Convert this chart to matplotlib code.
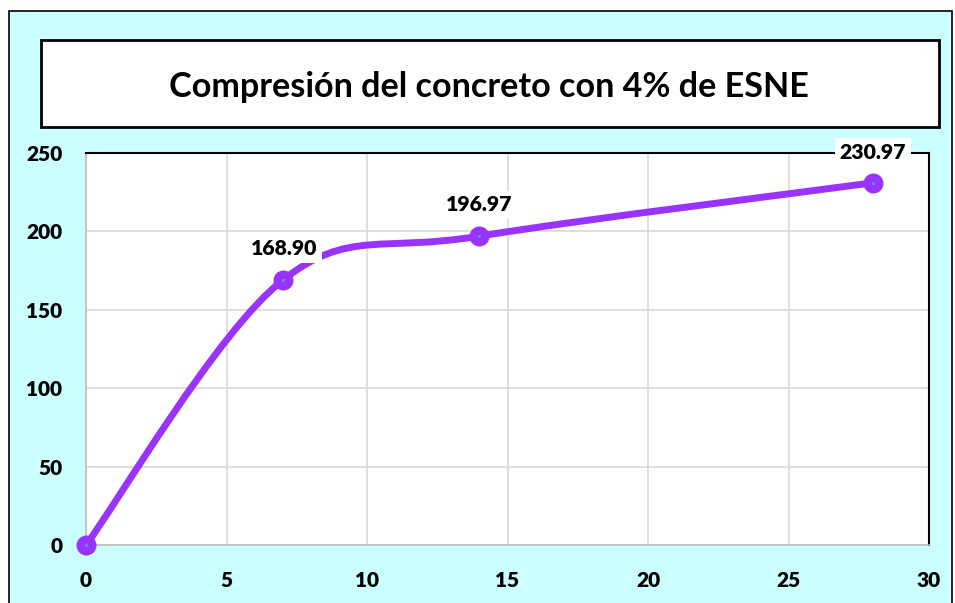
import matplotlib.pyplot as plt
from matplotlib.patches import Rectangle, PathPatch
from matplotlib.path import Path
import numpy as np

# Datos: edad (días) y resistencia a compresión
dias = [0, 7, 14, 28]
resistencia = [0, 168.90, 196.97, 230.97]
etiquetas = ["", "168.90", "196.97", "230.97"]

titulo = "Compresión del concreto con 4% de ESNE"
morado = "#9933FF"
azul = "#5B9BD5"
fondo = "#CCFFFF"

plt.rcParams['font.family'] = ['Lato', 'DejaVu Sans']

fig = plt.figure(figsize=(9.55, 6.03), dpi=100)

# fondo del área del gráfico
fig.patches.append(Rectangle((9 / 955, -0.05), 943 / 955, 1.05 - 11 / 603,
                             transform=fig.transFigure, facecolor=fondo,
                             edgecolor='black', linewidth=1.2, zorder=-2))

# recuadro del título
fig.patches.append(Rectangle((41 / 955, 1 - 127 / 603), 898 / 955, 87 / 603,
                             transform=fig.transFigure, facecolor='white',
                             edgecolor='black', linewidth=2, zorder=-1))
fig.text(0.512, 1 - 87 / 603, titulo, ha='center', va='center',
         fontsize=24.6, fontweight='bold', zorder=2)

ax = fig.add_axes([86 / 955, 1 - 545 / 603, 843 / 955, 392 / 603])
ax.set_zorder(1)
ax.set_facecolor('white')
ax.set_xlim(0, 30)
ax.set_ylim(0, 250)
ax.set_xticks(np.arange(0, 31, 5))
ax.set_yticks(np.arange(0, 251, 50))
ax.grid(True, color='#D9D9D9', linewidth=1.2)
ax.set_axisbelow(True)
ax.tick_params(length=0, labelsize=15)
ax.tick_params(axis='x', pad=19)
ax.tick_params(axis='y', pad=17)
for lab in ax.get_xticklabels() + ax.get_yticklabels():
    lab.set_fontweight('heavy')
for s in ['left', 'bottom']:
    ax.spines[s].set_color('#BFBFBF')
    ax.spines[s].set_linewidth(1.2)
for s in ['top', 'right']:
    ax.spines[s].set_color('black')
    ax.spines[s].set_linewidth(1.5)

# línea suavizada (spline tipo Excel con curvas Bezier)
pts = np.column_stack([dias, resistencia])
ext = np.vstack([pts[0], pts, pts[-1]])
verts = [tuple(pts[0])]
codes = [Path.MOVETO]
for i in range(1, len(ext) - 2):
    p0, p1, p2, p3 = ext[i - 1], ext[i], ext[i + 1], ext[i + 2]
    c1 = p1 + (p2 - p0) / 6
    c2 = p2 - (p3 - p1) / 6
    verts += [tuple(c1), tuple(c2), tuple(p2)]
    codes += [Path.CURVE4] * 3
ax.add_patch(PathPatch(Path(verts, codes), facecolor='none', edgecolor=morado,
                       linewidth=5, capstyle='round', zorder=3, clip_on=False))
ax.plot(dias, resistencia, linestyle='none', marker='o', markersize=8.3,
        markeredgewidth=6.1, markeredgecolor=morado, markerfacecolor=azul,
        zorder=4, clip_on=False)

offsets = [(0, 0), (1, 23), (0, 22.5), (0, 22)]
for x, y, t, off in zip(dias, resistencia, etiquetas, offsets):
    if t:
        ax.annotate(t, (x, y), xytext=off, textcoords='offset points',
                    ha='center', va='center', fontsize=15.3, fontweight='heavy',
                    bbox=dict(facecolor='white', edgecolor='none', pad=3.5),
                    zorder=5, annotation_clip=False)

fig.savefig('out.png', dpi=100)
